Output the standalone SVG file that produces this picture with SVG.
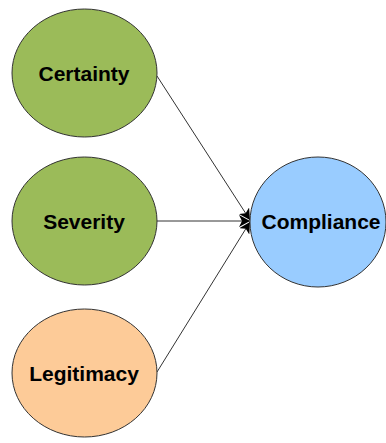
<svg xmlns="http://www.w3.org/2000/svg" width="386" height="443" viewBox="0 0 386 443">
<style>
.n{stroke:#333;stroke-width:1}
.t{font-family:"Liberation Sans",Arial,sans-serif;font-weight:bold;font-size:21px;fill:#000;text-anchor:middle}
.c{stroke:#333;stroke-width:1;fill:none;marker-end:url(#ah)}
</style>
<defs>
<marker id="ah" markerWidth="12" markerHeight="12" refX="11" refY="6" orient="auto" markerUnits="userSpaceOnUse">
<path d="M0,0 L11,6 L0,12 L3,6 Z" fill="#000"/>
</marker>
</defs>
<rect width="386" height="443" fill="#fff"/>
<g id="connectors">
<line class="c" x1="157" y1="76" x2="250" y2="220"/>
<line class="c" x1="157" y1="221" x2="250" y2="221"/>
<line class="c" x1="157" y1="372" x2="250" y2="222"/>
</g>
<g id="certainty">
<ellipse class="n" cx="84.5" cy="73" rx="72.5" ry="64" fill="#9BBB59"/>
<text class="t" x="84" y="81">Certainty</text>
</g>
<g id="severity">
<ellipse class="n" cx="84.5" cy="221" rx="72.5" ry="64" fill="#9BBB59"/>
<text class="t" x="84" y="229">Severity</text>
</g>
<g id="legitimacy">
<ellipse class="n" cx="84.5" cy="373" rx="72.5" ry="64" fill="#FDCB98"/>
<text class="t" x="84" y="381">Legitimacy</text>
</g>
<g id="compliance">
<ellipse class="n" cx="318" cy="222" rx="68" ry="65" fill="#99CCFF"/>
<text class="t" x="321" y="229">Compliance</text>
</g>
</svg>
